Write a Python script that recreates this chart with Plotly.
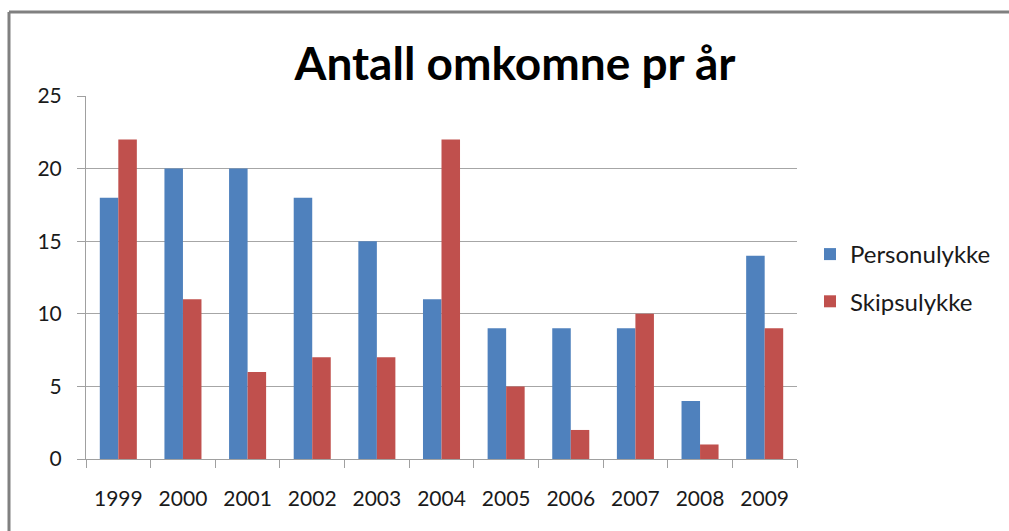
import plotly.graph_objects as go

years = ["1999", "2000", "2001", "2002", "2003", "2004", "2005", "2006", "2007", "2008", "2009"]
personulykke = [18, 20, 20, 18, 15, 11, 9, 9, 9, 4, 14]
skipsulykke = [22, 11, 6, 7, 7, 22, 5, 2, 10, 1, 9]
y_ticks = [0, 5, 10, 15, 20, 25]

FONT = "Lato, 'Open Sans', sans-serif"

fig = go.Figure()
fig.add_trace(go.Bar(x=years, y=personulykke, name="Personulykke",
                     marker=dict(color="#4F81BD", line=dict(width=0)), legendgroup="a"))
fig.add_trace(go.Bar(x=years, y=skipsulykke, name="Skipsulykke",
                     marker=dict(color="#C0504D", line=dict(width=0)), legendgroup="b"))

W, H = 1009, 531
L, R, T, B = 86, 212, 96, 72
pw, ph = W - L - R, H - T - B

fx0 = (9 - L) / pw
fx1 = (W + 40 - L) / pw
fy0 = (H - B - (H + 40)) / ph
fy1 = (H - B - 12) / ph
frame = dict(color="#808080", width=3)

fig.update_layout(
    width=W, height=H,
    margin=dict(l=L, r=R, t=T, b=B, pad=0),
    paper_bgcolor="white", plot_bgcolor="white",
    barmode="group", bargap=0.427, bargroupgap=0,
    title=dict(text="<b>Antall omkomne pr år</b>", x=515 / W, xanchor="center",
               y=1 - 64 / H, yanchor="middle", yref="container",
               font=dict(family=FONT, size=46, color="#000000")),
    font=dict(family=FONT, color="#1a1a1a"),
    showlegend=True,
    legend=dict(x=(810 - L) / pw, xanchor="left", y=(H - B - 232) / ph, yanchor="top",
                font=dict(size=24, color="#1a1a1a"), traceorder="grouped",
                tracegroupgap=13, bgcolor="rgba(0,0,0,0)"),
    xaxis=dict(type="category", showgrid=False, showline=True, linecolor="#A0A0A0",
               linewidth=1, ticks="outside", ticklen=8, tickcolor="#A0A0A0",
               tickson="boundaries", tickfont=dict(size=21, color="#1a1a1a"),
               ticklabelstandoff=21),
    yaxis=dict(range=[0, 25], tickvals=y_ticks, showgrid=True, gridcolor="#A6A6A6",
               gridwidth=1, showline=True, linecolor="#A0A0A0", linewidth=1,
               ticks="outside", ticklen=8, tickcolor="#A0A0A0",
               tickfont=dict(size=21, color="#1a1a1a"), ticklabelstandoff=11,
               zeroline=False),
    shapes=[
        dict(type="line", xref="paper", yref="paper", x0=fx0, x1=fx1, y0=fy1, y1=fy1,
             line=frame, layer="below"),
        dict(type="line", xref="paper", yref="paper", x0=fx0, x1=fx0, y0=fy0, y1=fy1,
             line=frame, layer="below"),
    ],
)

post = (
    "document.documentElement.style.overflow='hidden';"
    "document.body.style.margin='0';document.body.style.overflow='hidden';"
    "var d=document.getElementById('{plot_id}');"
    "d.style.position='fixed';d.style.top='0';d.style.left='0';"
)

fig.write_html("out.html", config={"displayModeBar": False}, post_script=post)
